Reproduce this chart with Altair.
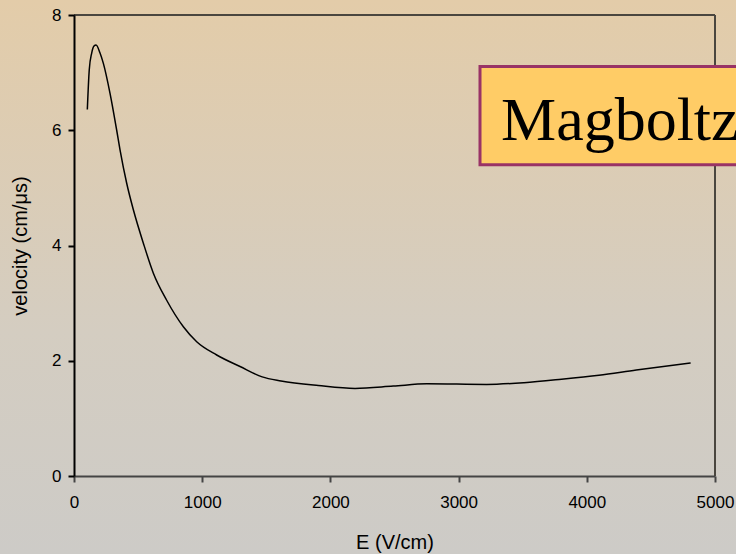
import altair as alt
import pandas as pd

# Electron drift velocity vs. electric field (Magboltz calculation)
field_v_per_cm = [104, 119, 138, 156, 172, 203, 229, 281, 333, 359, 411, 463, 541, 619,
                  723, 853, 957, 1113, 1295, 1468, 1615, 1906, 2192, 2490, 2752, 3219,
                  3510, 3803, 4095, 4386, 4810]
velocity_cm_us = [6.36, 7.05, 7.34, 7.46, 7.48, 7.34, 7.16, 6.64, 6.00, 5.66, 5.08, 4.62,
                  4.04, 3.52, 3.05, 2.59, 2.33, 2.10, 1.90, 1.72, 1.65, 1.57, 1.52, 1.56,
                  1.60, 1.59, 1.62, 1.68, 1.75, 1.84, 1.96]

x_ticks = [0, 1000, 2000, 3000, 4000, 5000]
y_ticks = [0, 2, 4, 6, 8]

W, H = 641, 461
PAD = {"left": 74, "top": 15, "right": 21, "bottom": 78}

df = pd.DataFrame({"E": field_v_per_cm, "v": velocity_cm_us})
one = pd.DataFrame({"k": [0]})

# page background: warm tan fading to grey
background = alt.Chart(one).mark_rect(
    clip=False,
    fill=alt.Gradient(
        gradient="linear",
        stops=[
            alt.GradientStop(color="#e3cca9", offset=0),
            alt.GradientStop(color="#d4cdc1", offset=0.6),
            alt.GradientStop(color="#cdcbc7", offset=1),
        ],
        x1=0, x2=0, y1=0, y2=1,
    ),
).encode(
    x=alt.value(-PAD["left"]), x2=alt.value(W + PAD["right"]),
    y=alt.value(-PAD["top"]), y2=alt.value(H + PAD["bottom"]),
)

# top and right frame lines
top_rule = alt.Chart(one).mark_rule(color="#4a463f", strokeWidth=2, clip=False).encode(
    x=alt.value(0), x2=alt.value(W), y=alt.value(0)
)
right_rule = alt.Chart(one).mark_rule(color="#4a463f", strokeWidth=2, clip=False).encode(
    x=alt.value(W), y=alt.value(0), y2=alt.value(H)
)

curve = alt.Chart(df).mark_line(color="black", strokeWidth=1.5, interpolate="monotone").encode(
    x=alt.X("E:Q", scale=alt.Scale(domain=[0, 5000], nice=False),
            axis=alt.Axis(values=x_ticks, format="d", title="E (V/cm)", grid=False,
                          domainColor="#444444", tickColor="#444444",
                          labelFlush=False, labelOverlap=False,
                          labelPadding=12, titlePadding=22, zindex=1)),
    y=alt.Y("v:Q", scale=alt.Scale(domain=[0, 8], nice=False),
            axis=alt.Axis(values=y_ticks, format="d", title="velocity (cm/μs)", grid=False,
                          domainColor="black", tickColor="black",
                          labelFlush=False, labelOverlap=False,
                          labelPadding=7, titlePadding=21, zindex=1)),
)

# label box
box = alt.Chart(one).mark_rect(
    clip=False, fill="#ffcc66", stroke="#993366", strokeWidth=3
).encode(
    x=alt.value(406), x2=alt.value(720), y=alt.value(51.5), y2=alt.value(149.7)
)
box_text = alt.Chart(one).mark_text(
    clip=False, text="Magboltz", font="Liberation Serif", fontSize=62,
    align="left", baseline="alphabetic", color="black"
).encode(x=alt.value(427), y=alt.value(125))

chart = alt.layer(background, top_rule, right_rule, curve, box, box_text).properties(
    width=W, height=H, autosize=alt.AutoSizeParams(type="none"), padding=PAD
).configure_view(strokeWidth=0).configure_axis(
    labelFont="Liberation Sans", labelFontSize=17, labelColor="black",
    titleFont="Liberation Sans", titleFontSize=20, titleFontWeight="normal",
    titleColor="black", domainWidth=2, tickWidth=2, tickSize=6,
)

chart.save("out.html", embed_options={"renderer": "svg", "actions": False})
